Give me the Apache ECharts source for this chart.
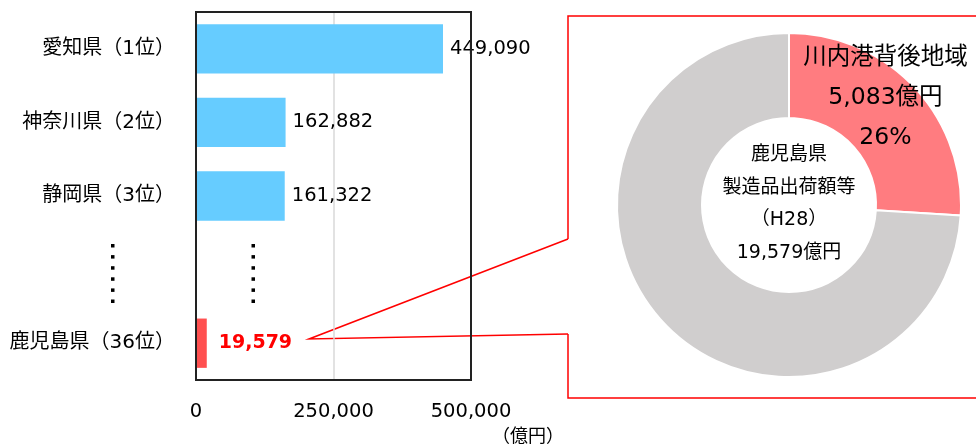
<!DOCTYPE html>
<html>
<head>
<meta charset="utf-8">
<script src="https://cdn.jsdelivr.net/npm/echarts@6/dist/echarts.min.js"></script>
<style>
  html, body { margin: 0; padding: 0; background: #fff; }
  #chart { width: 976px; height: 445px; }
</style>
</head>
<body>
<div id="chart"></div>
<script>
const font = '"DejaVu Sans", "Noto Sans CJK JP", sans-serif'

// 左：製造品出荷額等（都道府県順位）
const prefectures = ['愛知県（1位）', '神奈川県（2位）', '静岡県（3位）', '', '鹿児島県（36位）']
const shipments = [449090, 162882, 161322, null, 19579]
const xTicks = [0, 250000, 500000]

// 右：鹿児島県の内訳
const pieNames = ['川内港背後地域', 'その他']
const pieValues = [5083, 14496]
const centerLines = ['鹿児島県', '製造品出荷額等', '（H28）', '19,579億円']

const chart = echarts.init(document.getElementById('chart'))

const barData = shipments.map((v, i) => {
  if (i === shipments.length - 1) {
    return {
      value: v,
      itemStyle: { color: '#FF5050' },
      label: { color: '#FF0000', fontWeight: 'bold', fontSize: 19, distance: 12 }
    }
  }
  return v
})

// 省略記号（縦の点線）
const dots = []
for (let k = 0; k < 6; k++) {
  dots.push({ type: 'rect', shape: { x: 111, y: 244 + k * 11.1, width: 3.5, height: 3.5 }, style: { fill: '#000' } })
  dots.push({ type: 'rect', shape: { x: 251.5, y: 244 + k * 11.1, width: 3.5, height: 3.5 }, style: { fill: '#000' } })
}

const red = '#FF0000'

const option = {
  animation: false,
  textStyle: { fontFamily: font },
  grid: {
    left: 196, right: 505, top: 12, bottom: 65,
    show: true, borderColor: '#222', borderWidth: 2, z: 5
  },
  xAxis: {
    type: 'value',
    min: xTicks[0],
    max: xTicks[xTicks.length - 1],
    interval: xTicks[1] - xTicks[0],
    axisLine: { show: false },
    axisTick: { show: false },
    splitLine: { showMinLine: false, showMaxLine: false, lineStyle: { color: '#D9D9D9', width: 1.5 } },
    axisLabel: {
      margin: 22, fontSize: 19.5, color: '#000', fontFamily: font,
      formatter: v => v.toLocaleString('en-US')
    }
  },
  yAxis: {
    type: 'category',
    inverse: true,
    data: prefectures,
    axisLine: { show: false },
    axisTick: { show: false },
    axisLabel: { margin: 21, fontSize: 20, color: '#000', fontFamily: font }
  },
  series: [
    {
      type: 'bar',
      data: barData,
      barCategoryGap: '33%',
      itemStyle: { color: '#66CCFF' },
      label: {
        show: true, position: 'right', distance: 7,
        fontSize: 19.5, color: '#000', fontFamily: font,
        formatter: p => p.value.toLocaleString('en-US')
      }
    },
    {
      type: 'pie',
      center: [789, 205],
      radius: [87, 172],
      startAngle: 90,
      clockwise: true,
      itemStyle: { borderColor: '#fff', borderWidth: 2 },
      labelLine: { show: false },
      data: [
        {
          name: pieNames[0], value: pieValues[0],
          itemStyle: { color: '#FF7C80' },
          label: {
            show: true, position: 'inside', offset: [0, -16],
            fontSize: 23.5, lineHeight: 40, color: '#000', fontFamily: font,
            formatter: p => p.name + '\n' + p.value.toLocaleString('en-US') + '億円\n' + Math.round(p.percent) + '%'
          }
        },
        { name: pieNames[1], value: pieValues[1], itemStyle: { color: '#D0CECE' }, label: { show: false } }
      ],
      emphasis: { disabled: true }
    }
  ],
  graphic: [
    ...dots,
    {
      type: 'text', x: 789, y: 204,
      style: {
        text: centerLines.join('\n'), fill: '#000', font: '19px ' + font,
        lineHeight: 32.5, align: 'center', verticalAlign: 'middle'
      }
    },
    {
      type: 'text', x: 528, y: 437,
      style: { text: '（億円）', fill: '#000', font: '18px ' + font, align: 'center', verticalAlign: 'middle' }
    },
    { type: 'polyline', shape: { points: [[568, 239], [309, 339], [568, 334]] }, style: { stroke: red, lineWidth: 1.5, fill: null } },
    { type: 'polyline', shape: { points: [[568, 239], [568, 16], [976, 16]] }, style: { stroke: red, lineWidth: 1.5, fill: null } },
    { type: 'polyline', shape: { points: [[568, 334], [568, 398], [976, 398]] }, style: { stroke: red, lineWidth: 1.5, fill: null } }
  ]
}

chart.setOption(option)
</script>
</body>
</html>
